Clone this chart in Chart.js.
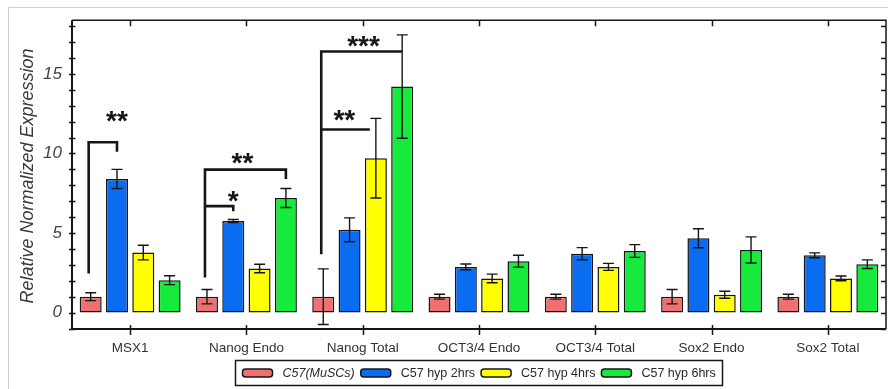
<!DOCTYPE html>
<html>
<head>
<meta charset="utf-8">
<script src="https://cdn.jsdelivr.net/npm/chart.js@4"></script>
<style>
  html, body { margin: 0; padding: 0; background: #fff; }
  #wrap { position: relative; width: 888px; height: 389px; }
</style>
</head>
<body>
<div id="wrap"><canvas id="c" width="888" height="389"></canvas></div>
<script>
// Genes measured
const categories = ['MSX1', 'Nanog Endo', 'Nanog Total', 'OCT3/4 Endo', 'OCT3/4 Total', 'Sox2 Endo', 'Sox2 Total'];

// Series names
const seriesNames = ['C57(MuSCs)', 'C57 hyp 2hrs', 'C57 hyp 4hrs', 'C57 hyp 6hrs'];

// Mean relative normalized expression per series
const musc    = [1.0, 1.0, 1.0, 1.0, 1.0, 1.0, 1.0];
const hyp2    = [8.4, 5.75, 5.2, 2.87, 3.7, 4.67, 3.6];
const hyp4    = [3.77, 2.77, 9.7, 2.15, 2.87, 1.12, 2.15];
const hyp6    = [2.04, 7.2, 14.2, 3.23, 3.87, 3.94, 3.04];

// Error (± half-range) per series
const muscErr = [0.25, 0.45, 1.75, 0.15, 0.15, 0.45, 0.15];
const hyp2Err = [0.6, 0.1, 0.75, 0.18, 0.38, 0.6, 0.15];
const hyp4Err = [0.46, 0.27, 2.5, 0.27, 0.22, 0.22, 0.15];
const hyp6Err = [0.28, 0.6, 3.25, 0.37, 0.4, 0.82, 0.27];

// Labelled y ticks
const yTickLabels = [0, 5, 10, 15];

// Significance brackets: category, bar index span, line heights (data units), marker
const brackets = [
  { cat: 0, from: 0, to: 1,    top: 10.7,  fromEnd: 2.45, toEnd: 10.1, text: '**',  textAt: 1,    textY: 12.45 },
  { cat: 1, from: 0, to: 3,    top: 8.98,  fromEnd: 2.2,  toEnd: 8.4,  text: '**',  textAt: 1.35, textY: 9.83 },
  { cat: 1, from: 0, to: 1,    top: 6.69,  fromEnd: null, toEnd: 6.37, text: '*',   textAt: 1,    textY: 7.46 },
  { cat: 2, from: 0, to: 3,    top: 16.4,  fromEnd: 3.67, toEnd: null, text: '***', textAt: 1.53, textY: 17.2 },
  { cat: 2, from: 0, to: 1.77, top: 11.5,  fromEnd: null, toEnd: null, text: '**',  textAt: 0.8,  textY: 12.53 }
];

const colors = ['#EE7070', '#0A6CF0', '#FFFF00', '#16EA3C'];
const values = [musc, hyp2, hyp4, hyp6];
const errors = [muscErr, hyp2Err, hyp4Err, hyp6Err];
const INK = '#161616';

// x position of a (possibly fractional) bar index inside a category
function barX(chart, cat, idx) {
  const lo = Math.floor(idx), hi = Math.min(3, Math.ceil(idx));
  const a = chart.getDatasetMeta(lo).data[cat].x;
  const b = chart.getDatasetMeta(hi).data[cat].x;
  return a + (b - a) * (idx - lo);
}

const decor = {
  id: 'decor',
  beforeDraw(chart) {
    const ctx = chart.ctx;
    ctx.save();
    ctx.fillStyle = '#fff';
    ctx.fillRect(0, 0, chart.width, chart.height);
    // outer light frame
    ctx.strokeStyle = '#d0d0d0';
    ctx.lineWidth = 1;
    ctx.beginPath();
    ctx.moveTo(8.5, chart.height);
    ctx.lineTo(8.5, 7.5);
    ctx.lineTo(chart.width, 7.5);
    ctx.stroke();
    ctx.restore();
  },
  afterDatasetsDraw(chart) {
    const ctx = chart.ctx;
    const y = chart.scales.y;
    ctx.save();
    // error bars
    ctx.strokeStyle = INK;
    ctx.lineWidth = 1.4;
    values.forEach((vals, d) => {
      const meta = chart.getDatasetMeta(d);
      meta.data.forEach((bar, i) => {
        const v = vals[i], e = errors[d][i];
        const yt = y.getPixelForValue(v + e), yb = y.getPixelForValue(v - e);
        const cap = 5.5;
        ctx.beginPath();
        ctx.moveTo(bar.x, yt); ctx.lineTo(bar.x, yb);
        ctx.moveTo(bar.x - cap, yt); ctx.lineTo(bar.x + cap, yt);
        ctx.moveTo(bar.x - cap, yb); ctx.lineTo(bar.x + cap, yb);
        ctx.stroke();
      });
    });
    // significance brackets
    ctx.lineWidth = 2.6;
    ctx.lineCap = 'butt';
    ctx.lineJoin = 'miter';
    brackets.forEach(b => {
      const x0 = barX(chart, b.cat, b.from) - 2, x1 = barX(chart, b.cat, b.to);
      const yt = y.getPixelForValue(b.top);
      ctx.beginPath();
      if (b.fromEnd !== null) { ctx.moveTo(x0, y.getPixelForValue(b.fromEnd)); ctx.lineTo(x0, yt); }
      else ctx.moveTo(x0, yt);
      ctx.lineTo(x1, yt);
      if (b.toEnd !== null) ctx.lineTo(x1, y.getPixelForValue(b.toEnd));
      ctx.stroke();
      const size = 28;
      ctx.font = 'bold ' + size + 'px "Liberation Sans", Arial, sans-serif';
      ctx.fillStyle = INK;
      ctx.textAlign = 'center';
      ctx.textBaseline = 'alphabetic';
      ctx.fillText(b.text, barX(chart, b.cat, b.textAt), y.getPixelForValue(b.textY) + size * 0.57);
    });
    ctx.restore();
  },
  afterDraw(chart) {
    const ctx = chart.ctx;
    const a = chart.chartArea;
    const y = chart.scales.y, x = chart.scales.x;
    ctx.save();
    ctx.strokeStyle = INK;
    // frame
    ctx.lineWidth = 2;
    ctx.beginPath();
    ctx.moveTo(a.left, a.top); ctx.lineTo(a.left, a.bottom); ctx.lineTo(a.right, a.bottom);
    ctx.stroke();
    ctx.lineWidth = 1.5;
    ctx.beginPath();
    ctx.moveTo(a.left, a.top); ctx.lineTo(a.right, a.top); ctx.lineTo(a.right, a.bottom);
    ctx.stroke();
    // y ticks every unit
    ctx.lineWidth = 1.5;
    ctx.beginPath();
    for (let v = Math.ceil(y.min); v <= Math.floor(y.max); v++) {
      const p = Math.round(y.getPixelForValue(v)) + 0.5;
      ctx.moveTo(a.left - 3, p); ctx.lineTo(a.left + 3.5, p);
      ctx.moveTo(a.right - 5, p); ctx.lineTo(a.right, p);
    }
    // category ticks
    categories.forEach((c, i) => {
      const p = Math.round(x.getPixelForValue(i)) + 0.5;
      ctx.moveTo(p, a.bottom - 4); ctx.lineTo(p, a.bottom + 6);
      ctx.moveTo(p, a.top); ctx.lineTo(p, a.top + 6);
    });
    ctx.stroke();

    // y title
    ctx.fillStyle = '#3a3a3a';
    ctx.font = 'italic 18px "Liberation Sans", Arial, sans-serif';
    ctx.textAlign = 'center';
    ctx.textBaseline = 'middle';
    ctx.save();
    ctx.translate(28, 176);
    ctx.rotate(-Math.PI / 2);
    ctx.fillText('Relative Normalized Expression', 0, 0);
    ctx.restore();

    // legend
    const fontNormal = '12.5px "Liberation Sans", Arial, sans-serif';
    const fontItalic = 'italic 12.5px "Liberation Sans", Arial, sans-serif';
    const sw = 30, sh = 8, gapText = 10, gapItem = 6, pad = 7;
    const items = seriesNames.map((n, i) => {
      ctx.font = i === 0 ? fontItalic : fontNormal;
      return { n, i, w: ctx.measureText(n).width, font: ctx.font };
    });
    let total = items.reduce((s, it) => s + sw + gapText + it.w, 0) + gapItem * (items.length - 1);
    const cx = (a.left + a.right) / 2;
    const boxL = Math.round(cx - total / 2 - pad) + 0.5;
    const boxW = Math.round(total + 2 * pad);
    const boxT = 360.5, boxH = 25;
    ctx.lineWidth = 1.5;
    ctx.strokeStyle = INK;
    ctx.strokeRect(boxL, boxT, boxW, boxH);
    let px = boxL + pad;
    const cy = boxT + boxH / 2;
    items.forEach(it => {
      ctx.fillStyle = colors[it.i];
      ctx.beginPath();
      ctx.roundRect(px, cy - sh / 2, sw, sh, 3);
      ctx.fill();
      ctx.lineWidth = 1.5;
      ctx.stroke();
      px += sw + gapText;
      ctx.font = it.font;
      ctx.fillStyle = '#2a2a2a';
      ctx.textAlign = 'left';
      ctx.textBaseline = 'middle';
      ctx.fillText(it.n, px, cy + 0.5);
      px += it.w + gapItem;
    });
    ctx.restore();
  }
};

new Chart(document.getElementById('c'), {
  type: 'bar',
  data: {
    labels: categories,
    datasets: seriesNames.map((name, i) => ({
      label: name,
      data: values[i],
      backgroundColor: colors[i],
      borderColor: INK,
      borderWidth: 1.5,
      borderSkipped: false,
      categoryPercentage: 0.905,
      barPercentage: 0.836
    }))
  },
  options: {
    responsive: false,
    animation: false,
    devicePixelRatio: 1,
    layout: { padding: { top: 18, right: 2, left: 0, bottom: 0 } },
    plugins: { legend: { display: false }, tooltip: { enabled: false } },
    scales: {
      x: {
        grid: { display: false, drawTicks: false },
        border: { display: false },
        ticks: {
          color: '#333',
          font: { family: '"Liberation Sans", Arial, sans-serif', size: 13.5 },
          padding: 11,
          autoSkip: false,
          maxRotation: 0
        },
        afterFit(s) { s.height = 60; }
      },
      y: {
        min: -1.03,
        max: 18.37,
        grid: { display: false, drawTicks: false },
        border: { display: false },
        afterBuildTicks(s) {
          // one tick per labelled value keeps every label visible
          s.ticks = yTickLabels.map(v => ({ value: v }));
        },
        ticks: {
          autoSkip: false,
          color: '#444',
          padding: 10,
          font: { family: '"Liberation Sans", Arial, sans-serif', size: 17, style: 'italic' },
          callback: v => String(v)
        },
        afterFit(s) { s.width = 72; }
      }
    }
  },
  plugins: [decor]
});
</script>
</body>
</html>
